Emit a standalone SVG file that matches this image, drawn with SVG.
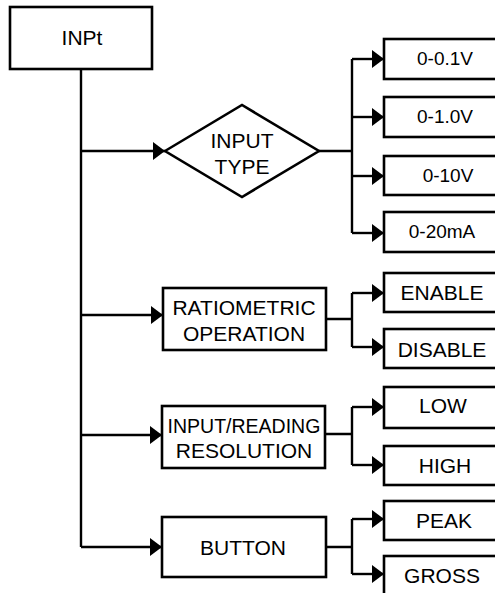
<svg xmlns="http://www.w3.org/2000/svg" width="495" height="593" viewBox="0 0 495 593">
<style>
.box{fill:#fff;stroke:#000;stroke-width:2.6}
.ln{fill:none;stroke:#000;stroke-width:2.4}
.arr{fill:none;stroke:#000;stroke-width:2.4;marker-end:url(#ah)}
text{font-family:"Liberation Sans",Arial,sans-serif;font-size:21px;fill:#000;text-anchor:middle}
.d{font-size:19px}
</style>
<defs>
<marker id="ah" markerUnits="userSpaceOnUse" markerWidth="12" markerHeight="18" refX="12" refY="9" orient="auto" viewBox="0 0 12 18">
<path d="M0,0 L12,9 L0,18 z" fill="#000"/>
</marker>
</defs>
<rect width="495" height="593" fill="#fff"/>
<g id="connectors">
<path class="ln" d="M81,69 V547"/>
<path class="arr" d="M81,151 H165"/>
<path class="arr" d="M81,315 H163"/>
<path class="arr" d="M81,435 H162"/>
<path class="arr" d="M81,547 H162"/>
<path class="ln" d="M319,151 H352 M352,59 V233"/>
<path class="arr" d="M352,59 H384"/>
<path class="arr" d="M352,117 H384"/>
<path class="arr" d="M352,176 H384"/>
<path class="arr" d="M352,233 H384"/>
<path class="ln" d="M326,319 H352 M352,293 V347"/>
<path class="arr" d="M352,293 H384"/>
<path class="arr" d="M352,347 H384"/>
<path class="ln" d="M325,434 H352 M352,407 V465"/>
<path class="arr" d="M352,407 H384"/>
<path class="arr" d="M352,465 H384"/>
<path class="ln" d="M326,547 H352 M352,519 V574"/>
<path class="arr" d="M352,519 H384"/>
<path class="arr" d="M352,574 H384"/>
</g>
<g id="inpt"><rect class="box" x="10" y="7" width="142" height="62"/><text x="82" y="45">INPt</text></g>
<g id="input-type"><polygon class="box" points="165,151 242,105 319,151 242,197"/><text x="242" y="148">INPUT</text><text x="242" y="174">TYPE</text></g>
<g id="ratiometric"><rect class="box" x="163" y="288" width="163" height="62"/><text x="244" y="315">RATIOMETRIC</text><text x="244" y="341">OPERATION</text></g>
<g id="resolution"><rect class="box" x="162" y="406" width="163" height="62"/><text x="244" y="433" style="font-size:19.5px">INPUT/READING</text><text x="244" y="458">RESOLUTION</text></g>
<g id="button"><rect class="box" x="162" y="517" width="164" height="60"/><text x="243" y="555">BUTTON</text></g>
<g id="v01"><rect class="box" x="384" y="39" width="130" height="40"/><text class="d" x="445" y="65">0-0.1V</text></g>
<g id="v10"><rect class="box" x="384" y="97" width="130" height="40"/><text class="d" x="445" y="123">0-1.0V</text></g>
<g id="v010"><rect class="box" x="384" y="156" width="130" height="39"/><text class="d" x="448" y="182">0-10V</text></g>
<g id="ma"><rect class="box" x="384" y="212" width="130" height="40"/><text class="d" x="442" y="238">0-20mA</text></g>
<g id="enable"><rect class="box" x="384" y="273" width="130" height="39"/><text x="442" y="300">ENABLE</text></g>
<g id="disable"><rect class="box" x="384" y="329" width="130" height="39"/><text x="442" y="357">DISABLE</text></g>
<g id="low"><rect class="box" x="384" y="387" width="130" height="41"/><text x="443" y="413">LOW</text></g>
<g id="high"><rect class="box" x="384" y="446" width="130" height="39"/><text x="445" y="473">HIGH</text></g>
<g id="peak"><rect class="box" x="384" y="501" width="130" height="39"/><text x="444" y="528">PEAK</text></g>
<g id="gross"><rect class="box" x="384" y="556" width="130" height="60"/><text x="442" y="583">GROSS</text></g>
</svg>
